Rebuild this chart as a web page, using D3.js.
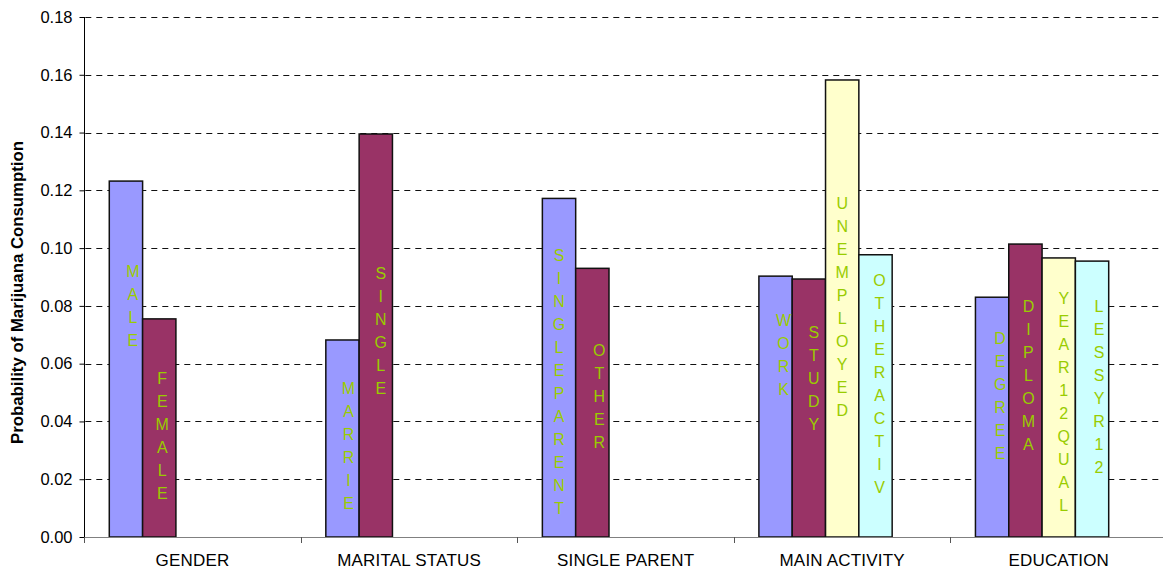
<!DOCTYPE html>
<html>
<head>
<meta charset="utf-8">
<script src="https://cdn.jsdelivr.net/npm/d3@7"></script>
<style>
  html, body { margin: 0; padding: 0; background: #fff; }
  svg { display: block; font-family: "Liberation Sans", Arial, sans-serif; }
</style>
</head>
<body>
<svg id="chart" width="1163" height="572"></svg>
<script>
// Category groups along the x axis
const categories = ["GENDER", "MARITAL STATUS", "SINGLE PARENT", "MAIN ACTIVITY", "EDUCATION"];

// Four bar series; null where a group has no bar in that slot
const series1Labels = ["MALE", "MARRIE", "SINGLEPARENT", "WORK", "DEGREE"];
const series1Values = [0.1232, 0.0682, 0.1172, 0.0903, 0.0830];

const series2Labels = ["FEMALE", "SINGLE", "OTHER", "STUDY", "DIPLOMA"];
const series2Values = [0.0755, 0.1395, 0.0930, 0.0893, 0.1014];

const series3Labels = [null, null, null, "UNEMPLOYED", "YEAR12QUAL"];
const series3Values = [null, null, null, 0.1582, 0.0966];

const series4Labels = [null, null, null, "OTHERACTIV", "LESSYR12"];
const series4Values = [null, null, null, 0.0977, 0.0955];

// Value axis ticks
const yTicks = [0, 0.02, 0.04, 0.06, 0.08, 0.10, 0.12, 0.14, 0.16, 0.18];

const yTitle = "Probability of Marijuana Consumption";

// ---- styling / layout ----
const seriesColors = ["#9999FF", "#993366", "#FFFFCC", "#CCFFFF"];
const labelColor = "#99CC00";
// small per-label text nudges [dx, dy] in px, relative to the bar centre
const labelNudge = {
  MALE: [7, -53], FEMALE: [3, 8], MARRIE: [6, 7], SINGLE: [5, -5],
  SINGLEPARENT: [0, 14], OTHER: [7, -6], WORK: [8, -52], STUDY: [5, -30],
  UNEMPLOYED: [0, -2], OTHERACTIV: [4, -12], DEGREE: [8, -21], DIPLOMA: [3, -15],
  YEAR12QUAL: [5, 4], LESSYR12: [7, -12]
};

const plot = { left: 84.3, right: 1167, top: 17, bottom: 537 };

const svg = d3.select("#chart");

// build series table from the named arrays
const seriesTable = [
  { key: "s1", labels: series1Labels, values: series1Values },
  { key: "s2", labels: series2Labels, values: series2Values },
  { key: "s3", labels: series3Labels, values: series3Values },
  { key: "s4", labels: series4Labels, values: series4Values }
];

// a fifth, empty slot keeps the clusters left-aligned within each group
const slotKeys = ["s1", "s2", "s3", "s4", "s5"];

const x0 = d3.scaleBand().domain(categories).range([plot.left, plot.right]).padding(0);
const x1 = d3.scaleBand().domain(slotKeys).range([0, x0.bandwidth()]).paddingInner(0).paddingOuter(0.75);
const y = d3.scaleLinear().domain([0, 0.18]).range([plot.bottom, plot.top]);

// gridlines
svg.append("g")
  .selectAll("line")
  .data(yTicks.filter(t => t > 0))
  .join("line")
  .attr("x1", plot.left + 1)
  .attr("x2", 1163)
  .attr("y1", d => Math.round(y(d)) + 0.5)
  .attr("y2", d => Math.round(y(d)) + 0.5)
  .attr("stroke", "#111")
  .attr("stroke-width", 1)
  .attr("stroke-dasharray", "6,5");

// bars
const bars = [];
seriesTable.forEach((s, si) => {
  categories.forEach((c, ci) => {
    if (s.values[ci] != null) {
      bars.push({ cat: c, key: s.key, si, value: s.values[ci], label: s.labels[ci] });
    }
  });
});

svg.append("g")
  .selectAll("rect")
  .data(bars)
  .join("rect")
  .attr("x", d => x0(d.cat) + x1(d.key))
  .attr("y", d => y(d.value))
  .attr("width", x1.bandwidth())
  .attr("height", d => y(0) - y(d.value))
  .attr("fill", d => seriesColors[d.si])
  .attr("stroke", "#111")
  .attr("stroke-width", 1.5);

// vertical stacked-letter labels inside bars
const lineStep = 23;
const labelG = svg.append("g")
  .attr("font-size", 16)
  .attr("fill", labelColor)
  .attr("text-anchor", "middle");

bars.forEach(d => {
  const letters = d.label.split("");
  const nudge = labelNudge[d.label] || [0, 0];
  const cx = x0(d.cat) + x1(d.key) + x1.bandwidth() / 2 + nudge[0];
  const cy = (y(d.value) + y(0)) / 2 + nudge[1];
  const n = letters.length;
  labelG.append("g")
    .selectAll("text")
    .data(letters)
    .join("text")
    .attr("x", cx)
    .attr("y", (ch, i) => cy + (i - (n - 1) / 2) * lineStep + 5.7)
    .text(ch => ch);
});

// y axis
const yAxis = d3.axisLeft(y)
  .tickValues(yTicks)
  .tickSize(5)
  .tickPadding(7)
  .tickFormat(d3.format(".2f"));

const yAxisG = svg.append("g")
  .attr("transform", `translate(${Math.round(plot.left) + 0.5},0)`)
  .call(yAxis);
yAxisG.select(".domain").attr("stroke", "#000").attr("d", `M0,${plot.top}V${plot.bottom}`);
yAxisG.selectAll(".tick line").attr("stroke", "#000");
yAxisG.selectAll(".tick text")
  .attr("font-size", 16.5)
  .attr("font-family", "Liberation Sans, Arial, sans-serif")
  .attr("fill", "#000");

// x axis baseline and group-boundary ticks
const xBase = svg.append("g");
xBase.append("line")
  .attr("x1", plot.left)
  .attr("x2", 1163)
  .attr("y1", Math.round(y(0)) + 0.5)
  .attr("y2", Math.round(y(0)) + 0.5)
  .attr("stroke", "#808080")
  .attr("stroke-width", 1.2);

const boundaries = categories.map(c => x0(c)).concat([x0.range()[1]]);
xBase.selectAll("line.b")
  .data(boundaries)
  .join("line")
  .attr("class", "b")
  .attr("x1", d => Math.round(d) + 0.5)
  .attr("x2", d => Math.round(d) + 0.5)
  .attr("y1", Math.round(y(0)))
  .attr("y2", Math.round(y(0)) + 6)
  .attr("stroke", "#555")
  .attr("stroke-width", 1);

// category labels
const xAxis = d3.axisBottom(x0).tickSize(0).tickPadding(0);
const xAxisG = svg.append("g")
  .attr("transform", `translate(0,${plot.bottom})`)
  .call(xAxis);
xAxisG.select(".domain").remove();
xAxisG.selectAll(".tick text")
  .attr("dy", null)
  .attr("y", 29)
  .attr("font-size", 17)
  .attr("letter-spacing", 0.2)
  .attr("font-family", "Liberation Sans, Arial, sans-serif")
  .attr("fill", "#000");

// y axis title
svg.append("text")
  .attr("transform", `translate(23,${(140 + 445) / 2}) rotate(-90)`)
  .attr("text-anchor", "middle")
  .attr("font-size", 16.8)
  .attr("font-weight", "bold")
  .attr("fill", "#000")
  .text(yTitle);
</script>
</body>
</html>
